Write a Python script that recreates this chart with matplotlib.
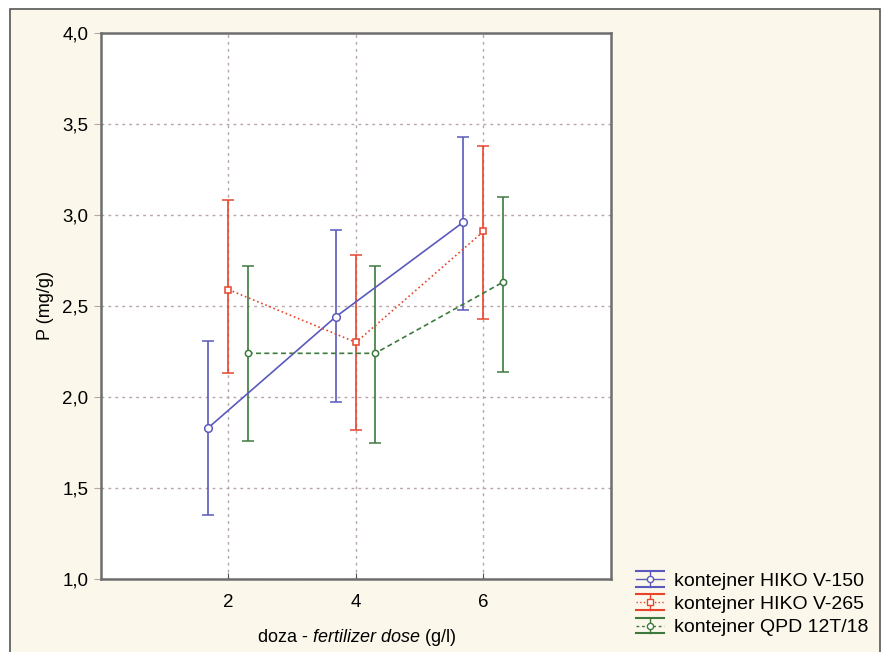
import numpy
import matplotlib
matplotlib.use('Agg')

from matplotlib import pyplot as plt
from matplotlib.patches import Rectangle
from matplotlib.lines import Line2D
from matplotlib.legend_handler import HandlerBase
from matplotlib.container import ErrorbarContainer

# fertilizer doses and the three container types
doses = [2, 4, 6]
series_names = ['kontejner HIKO V-150', 'kontejner HIKO V-265', 'kontejner QPD 12T/18']

# means with lower/upper confidence limits
hiko150_mean = [1.83, 2.44, 2.96]
hiko150_low = [1.35, 1.97, 2.48]
hiko150_high = [2.31, 2.92, 3.43]

hiko265_mean = [2.59, 2.30, 2.91]
hiko265_low = [2.13, 1.82, 2.43]
hiko265_high = [3.08, 2.78, 3.38]

qpd_mean = [2.24, 2.24, 2.63]
qpd_low = [1.76, 1.75, 2.14]
qpd_high = [2.72, 2.72, 3.10]

yticks = [1.0, 1.5, 2.0, 2.5, 3.0, 3.5, 4.0]


class HandlerCI(HandlerBase):
    """Legend key drawn like the old STATISTICA one: wide caps above and
    below, a short whisker and the marker on the series line."""

    def create_artists(self, legend, orig_handle, xdescent, ydescent,
                       width, height, fontsize, trans):
        line = orig_handle.lines[0]
        color = line.get_color()
        x0, x1 = -xdescent, -xdescent + width
        xm = (x0 + x1) / 2
        ym = height / 2 - ydescent
        half = 0.4 * fontsize
        top = Line2D([x0, x1], [ym + half] * 2, color=color, linewidth=1.5)
        bot = Line2D([x0, x1], [ym - half] * 2, color=color, linewidth=1.5)
        whisk = Line2D([xm, xm], [ym - half, ym + half], color=color, linewidth=1.0)
        mid = Line2D([x0, x1], [ym, ym], color=color, linewidth=1.0,
                     linestyle=line.get_linestyle())
        if line.get_linestyle() == '--':
            mid.set_dashes((2, 2))
        mark = Line2D([xm], [ym], marker=line.get_marker(), markersize=4.5,
                      markerfacecolor='white', markeredgecolor=color,
                      markeredgewidth=1.0, linestyle='none')
        artists = [top, bot, whisk, mid, mark]
        for a in artists:
            a.set_transform(trans)
        return artists


plt.rcParams['font.family'] = ['Liberation Sans', 'DejaVu Sans']
plt.rcParams['mathtext.fontset'] = 'custom'
plt.rcParams['mathtext.rm'] = 'Liberation Sans'
plt.rcParams['mathtext.it'] = 'Liberation Sans:italic'

dpi = 100
fig = plt.figure(figsize=(8.82, 6.52), dpi=dpi, facecolor='white')

# cream panel with thin border behind everything
fig.patches.append(Rectangle((10 / 882, -0.02), 870 / 882, 1 - 9 / 652 + 0.02,
                             transform=fig.transFigure, facecolor='#FBF7EA',
                             edgecolor='#555555', linewidth=1.2, zorder=-1))

ax = fig.add_axes([101 / 882, 1 - 579 / 652, 510 / 882, 546 / 652])
ax.set_facecolor('white')

styles = [
    (hiko150_mean, hiko150_low, hiko150_high, -0.32, '#5A5ABD', '-', 'o', 5.5),
    (hiko265_mean, hiko265_low, hiko265_high, 0.0, '#E8442C', ':', 's', 5.0),
    (qpd_mean, qpd_low, qpd_high, 0.30, '#3E7A3E', '--', 'o', 4.5),
]

handles = []
for (mean, low, high, offset, color, ls, marker, msize), name in zip(styles, series_names):
    xs = numpy.array(doses) + offset
    mean = numpy.array(mean)
    yerr = [mean - numpy.array(low), numpy.array(high) - mean]
    cont = ax.errorbar(xs, mean, yerr=yerr, color=color, linestyle=ls, linewidth=1.2,
                       marker=marker, markersize=msize, markerfacecolor='white',
                       markeredgecolor=color, markeredgewidth=1.1,
                       elinewidth=1.2, capsize=4.5, capthick=1.5, label=name, zorder=3)
    if ls == '--':
        cont.lines[0].set_dashes((3, 2))
    handles.append(cont)

ax.set_xlim(0, 8)
ax.set_ylim(1.0, 4.0)
ax.set_xticks(doses)
ax.set_yticks(yticks)
ax.set_yticklabels([f"{v:.1f}".replace('.', ',') for v in yticks])

ax.grid(True, linestyle=(0, (2, 3)), color='#B8A6A6', linewidth=1.0)
ax.set_axisbelow(True)

for spine in ax.spines.values():
    spine.set_color('#6E6E6E')
    spine.set_linewidth(1.8)

ax.tick_params(axis='x', direction='in', length=4, color='#555555', labelsize=13.5, pad=11)
ax.tick_params(axis='y', direction='out', length=5, color='#B8A6A6', labelsize=13.5, pad=4)

ax.set_ylabel('P (mg/g)', fontsize=13, labelpad=6)
ax.set_xlabel('doza - $\\it{fertilizer\\ dose}$ (g/l)', fontsize=13, labelpad=11)

fig.legend(handles=handles, labels=series_names, loc='upper left',
           bbox_to_anchor=(636 / 882, 1 - 572 / 652), frameon=False, fontsize=14,
           handlelength=1.45, handletextpad=0.5, labelspacing=0.3,
           borderpad=0, borderaxespad=0,
           handler_map={ErrorbarContainer: HandlerCI()})

fig.savefig('out.png', dpi=dpi)
